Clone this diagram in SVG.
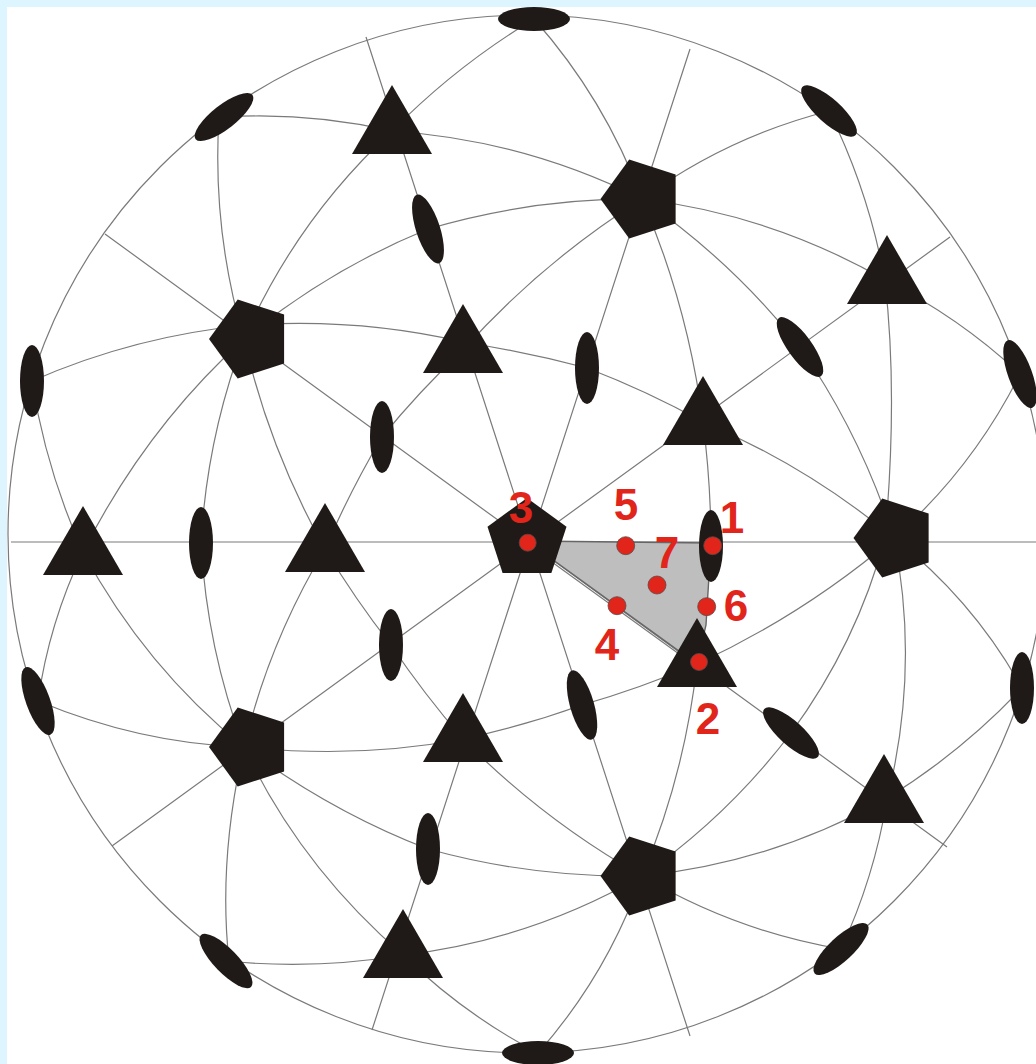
<svg xmlns="http://www.w3.org/2000/svg" xmlns:xlink="http://www.w3.org/1999/xlink" width="1036" height="1064" viewBox="0 0 1036 1064">
<style>
.l{fill:none;stroke:#7a7a7a;stroke-width:1.2}
.s{fill:#1f1a17}
.d{fill:#e1251b;stroke:#5a4a48;stroke-width:.8}
.n{font-family:"Liberation Sans",Arial,sans-serif;font-weight:700;font-size:44px;fill:#e1251b;text-anchor:middle}
</style>
<defs>
<polygon id="pl" class="s" points="-41.5,0 -12.8,-39.5 33.6,-24.4 33.6,24.4 -12.8,39.5"/>
<polygon id="tr" class="s" points="0,-46 40,23 -40,23"/>
<ellipse id="el" class="s" rx="12" ry="36"/>
</defs>
<rect width="1036" height="1064" fill="#dcf5fe"/>
<rect x="7" y="7" width="1029" height="1057" fill="#fff"/>
<g id="connectors">
<circle class="l" cx="527" cy="534" r="519"/>
<path class="l" d="M11 542H1036M366 37L690 1036M690 49L372 1030M950 237L112 846M105 234L947 847"/>
<path class="l" d="M534 19Q456 66 392 131Q296 220 244 339Q207 437 201 543Q207 649 244 747Q300 866 403 955Q463.500 1014 538 1053"/>
<path class="l" d="M534 19Q605 99 642 199Q688 306 703 422Q711 484 711 546Q708 605 697 664Q685 774 642 876Q607 975 538 1053"/>
<path class="l" d="M224 117Q309 112 392 131Q524 140 642 199Q732 261 800 347Q861 435 894 538Q920 668 887 800Q874 878 841 949"/>
<path class="l" d="M219 117Q212 230 244 339Q269 449 325 549Q355 599 391 645Q424 694 463 739Q543 820 642 876Q735 931 841 949"/>
<path class="l" d="M829 111Q727 137 642 199Q542 262 463 350Q419.500 391 382 437Q350 491 325 549Q269 642 244 747Q218 860 229 961"/>
<path class="l" d="M829 111Q869 192 885 281Q898 395 885 538Q857 643 791 733Q728 816 642 876Q531 940 403 955Q315 970 226 961"/>
<path class="l" d="M32 381Q137 335 250 325Q360 318 463 342Q526 352 587 368Q647 391 703 422Q807 466 894 538Q973 600 1022 688"/>
<path class="l" d="M32 381Q46 470 83 552Q145 667 244 747Q331.500 812 428 849Q533 878 642 876Q771 863 884 800Q961 753 1022 688"/>
<path class="l" d="M1020 374Q960 318 887 281Q773 215 642 199Q533 198 428 229Q328 270 244 339Q145 429 83 552Q49 623 38 701"/>
<path class="l" d="M1020 374Q973 468 894 538Q804 614.500 697 664Q641 688 582 705Q524 726 463 739Q358 759 244 747Q140 743.500 38 701"/>
<path d="M527 541L711 543L706 625L697 664Z" fill="#bebebe" stroke="#666" stroke-width="1.400"/>
<path class="l" d="M527 544L697 667"/>
</g>
<g id="p1"><use href="#pl" x="642" y="199"/></g>
<g id="p2"><use href="#pl" x="250.500" y="339"/></g>
<g id="p3"><polygon class="s" points="527,498 566.500,526.700 551.400,573 502.600,573 487.500,526.700"/></g>
<g id="p4"><use href="#pl" x="895" y="538"/></g>
<g id="p5"><use href="#pl" x="250.500" y="747"/></g>
<g id="p6"><use href="#pl" x="642" y="876"/></g>
<g id="t1"><use href="#tr" x="392" y="131"/></g>
<g id="t2"><use href="#tr" x="463" y="350"/></g>
<g id="t3"><use href="#tr" x="887" y="281"/></g>
<g id="t4"><use href="#tr" x="703" y="422"/></g>
<g id="t5"><use href="#tr" x="83" y="552"/></g>
<g id="t6"><use href="#tr" x="325" y="549"/></g>
<g id="t7"><use href="#tr" x="697" y="664"/></g>
<g id="t8"><use href="#tr" x="463" y="739"/></g>
<g id="t9"><use href="#tr" x="884" y="800"/></g>
<g id="t10"><use href="#tr" x="403" y="955"/></g>
<g id="e1"><use href="#el" transform="translate(534 19) rotate(90)"/></g>
<g id="e2"><use href="#el" transform="translate(538 1053) rotate(90)"/></g>
<g id="e3"><use href="#el" transform="translate(224 117) rotate(52)"/></g>
<g id="e4"><use href="#el" transform="translate(829 111) rotate(-48)"/></g>
<g id="e5"><use href="#el" transform="translate(428 229) rotate(-18)"/></g>
<g id="e6"><use href="#el" transform="translate(32 381)"/></g>
<g id="e7"><use href="#el" transform="translate(587 368)"/></g>
<g id="e8"><use href="#el" transform="translate(800 347) rotate(-36)"/></g>
<g id="e9"><use href="#el" transform="translate(1020 374) rotate(-20)"/></g>
<g id="e10"><use href="#el" transform="translate(382 437)"/></g>
<g id="e11"><use href="#el" transform="translate(711 546)"/></g>
<g id="e12"><use href="#el" transform="translate(201 543)"/></g>
<g id="e13"><use href="#el" transform="translate(391 645)"/></g>
<g id="e14"><use href="#el" transform="translate(582 705) rotate(-16)"/></g>
<g id="e15"><use href="#el" transform="translate(38 701) rotate(-20)"/></g>
<g id="e16"><use href="#el" transform="translate(791 733) rotate(-48)"/></g>
<g id="e17"><use href="#el" transform="translate(1022 688)"/></g>
<g id="e18"><use href="#el" transform="translate(428 849)"/></g>
<g id="e19"><use href="#el" transform="translate(226 961) rotate(-44)"/></g>
<g id="e20"><use href="#el" transform="translate(841 949) rotate(47)"/></g>
<g id="pt1"><circle class="d" cx="712.700" cy="545.700" r="9"/><text class="n" x="732" y="533">1</text></g>
<g id="pt2"><circle class="d" cx="699" cy="662" r="8.500"/><text class="n" x="708" y="734">2</text></g>
<g id="pt3"><circle class="d" cx="527.700" cy="542.700" r="8.500"/><text class="n" x="521" y="523">3</text></g>
<g id="pt4"><circle class="d" cx="617" cy="605.700" r="9"/><text class="n" x="607" y="660">4</text></g>
<g id="pt5"><circle class="d" cx="625.700" cy="545.700" r="9"/><text class="n" x="626" y="520">5</text></g>
<g id="pt6"><circle class="d" cx="706.700" cy="606.700" r="9"/><text class="n" x="736" y="621">6</text></g>
<g id="pt7"><circle class="d" cx="657" cy="585" r="9"/><text class="n" x="667" y="568">7</text></g>
</svg>
